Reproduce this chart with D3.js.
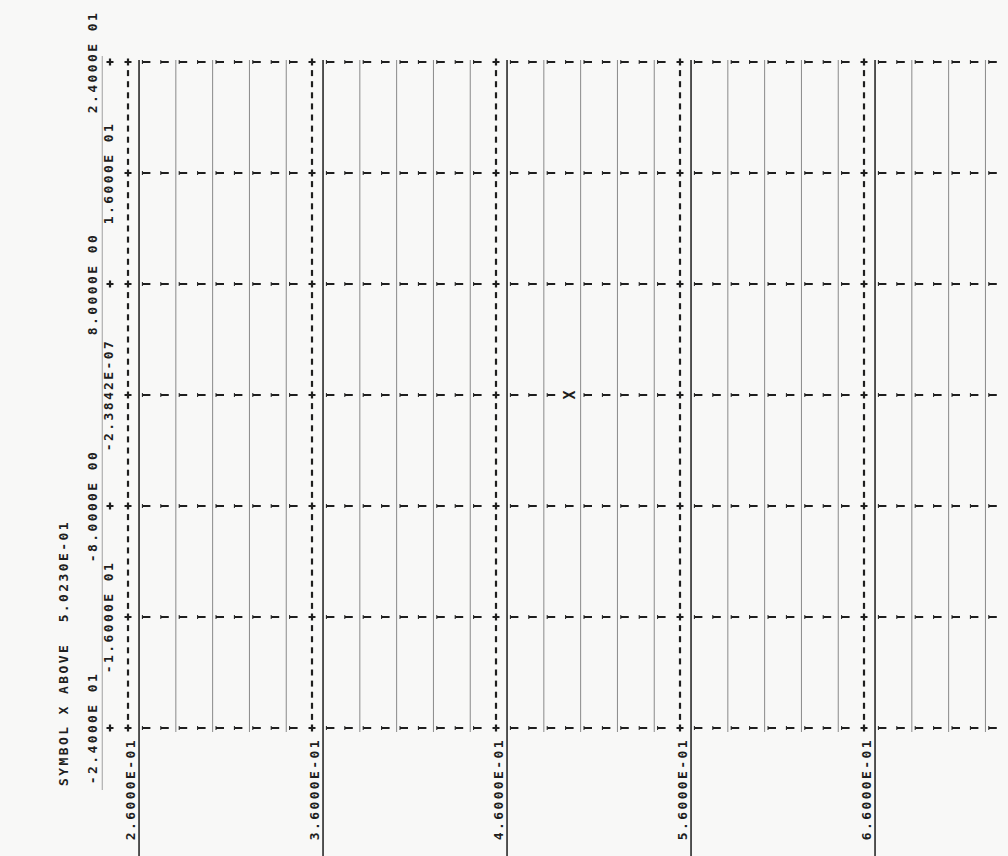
<!DOCTYPE html>
<html>
<head>
<meta charset="utf-8">
<script src="https://cdn.jsdelivr.net/npm/d3@7"></script>
<style>
  html, body { margin: 0; padding: 0; background: #f8f8f7; }
  svg { display: block; }
  text {
    font-family: "DejaVu Sans Mono", "Liberation Mono", monospace;
    font-size: 13px;
    font-weight: bold;
    fill: #1e1e1e;
    white-space: pre;
    letter-spacing: 2.4px;
  }
</style>
</head>
<body>
<svg id="chart" width="1008" height="856"></svg>
<script>
// ---- plot content ----
const headerText = "SYMBOL X ABOVE  5.0230E-01";

const yTickValues = [-24, -16, -8, -2.3842e-7, 8, 16, 24];
const yTickLabels = ["-2.4000E 01", "-1.6000E 01", "-8.0000E 00", "-2.3842E-07",
                     "8.0000E 00", "1.6000E 01", "2.4000E 01"];

const xTickValues = [0.26, 0.36, 0.46, 0.56, 0.66];
const xTickLabels = ["2.6000E-01", "3.6000E-01", "4.6000E-01", "5.6000E-01", "6.6000E-01"];

const pointX = [0.50];
const pointY = [0];
const pointSymbol = ["X"];

// printer resolution in data units
const lineStep = 0.01;   // one printed line along x
const colStep = 0.8;     // one print column along y
const ruleStart = 0.246; // ruled guide lines of the form paper
const ruleStep = 0.02;

// ---- layout ----
const W = 1008, H = 856;
const svg = d3.select("#chart");
svg.append("rect").attr("width", W).attr("height", H).attr("fill", "#f8f8f7");

const x = d3.scaleLinear().domain([0.26, 0.66]).range([128, 864]);
const y = d3.scaleLinear().domain([-24, 24]).range([728, 62]);
const xEnd = x.invert(W);
const ink = "#1e1e1e";

// ruled guide lines (the first one runs through the label margin)
const rules = d3.range(0, Math.floor((xEnd - ruleStart) / ruleStep) + 1)
  .map(i => ({ v: ruleStart + i * ruleStep, major: i % 5 === 1, margin: i === 0 }));
svg.append("g").selectAll("line").data(rules).join("line")
  .attr("x1", d => x(d.v)).attr("x2", d => x(d.v))
  .attr("y1", d => d.margin ? y(24) - 6 : y(24) - 2)
  .attr("y2", d => d.margin ? 790 : d.major ? H : y(-24) + 4)
  .attr("stroke", d => d.major ? "#2a2a2a" : d.margin ? "#a0a0a0" : "#8a8a8a")
  .attr("stroke-width", d => d.major ? 1.6 : 1);

// plus mark helper
function plus(g, cx, cy) {
  g.append("path")
    .attr("d", `M${cx - 3.5},${cy}H${cx + 3.5}M${cx},${cy - 3.5}V${cy + 3.5}`)
    .attr("stroke", ink).attr("stroke-width", 2.2).attr("fill", "none");
}

const yMajor = d3.range(-24, 24.001, 8);

// dashed axis lines at each major x value
const dotG = svg.append("g");
xTickValues.forEach(xv => {
  const cols = d3.range(0, Math.round(48 / colStep) + 1).map(i => -24 + i * colStep);
  cols.forEach(yv => {
    const cx = x(xv), cy = y(yv);
    if (Math.abs(yv / 8 - Math.round(yv / 8)) < 1e-6) {
      plus(dotG, cx, cy);
    } else {
      dotG.append("path")
        .attr("d", `M${cx},${cy - 3}V${cy + 3}`)
        .attr("stroke", ink).attr("stroke-width", 2.2);
    }
  });
});

// grid rows of printed bars at each major y value
const rowG = svg.append("g");
const printLines = d3.range(1, Math.floor((xEnd - 0.26) / lineStep) + 1)
  .map(i => 0.26 + i * lineStep);
yMajor.forEach(yv => {
  printLines.forEach(xv => {
    const isMajor = xTickValues.some(t => Math.abs(t - xv) < 1e-6);
    const isPoint = pointX.some((p, i) => Math.abs(p - xv) < 1e-6 && Math.abs(pointY[i] - yv) < 1e-6);
    if (isMajor || isPoint) return;
    const cx = x(xv), cy = y(yv);
    rowG.append("path")
      .attr("d", `M${cx - 4},${cy}H${cx + 4}`)
      .attr("stroke", ink).attr("stroke-width", 2);
    rowG.append("path")
      .attr("d", `M${cx - 4},${cy - 2}V${cy + 2}`)
      .attr("stroke", ink).attr("stroke-width", 1);
  });
});

// plotted symbols
svg.append("g").selectAll("text").data(pointX).join("text")
  .attr("transform", (d, i) => `translate(${x(d)},${y(pointY[i])}) rotate(-90)`)
  .attr("text-anchor", "middle").attr("dominant-baseline", "central")
  .style("letter-spacing", "0px").style("font-size", "15px")
  .text((d, i) => pointSymbol[i]);

// value labels along y, printed in two staggered lines
const axisX = x(0.26);
const yAxis = d3.axisLeft(y).tickValues(yTickValues)
  .tickFormat((d, i) => yTickLabels[i]).tickSize(0);
const yAxisG = svg.append("g").call(yAxis);
yAxisG.select(".domain").remove();
yAxisG.attr("font-family", null).attr("font-size", null);
yAxisG.selectAll(".tick").attr("transform", null);
yAxisG.selectAll(".tick text")
  .attr("x", null).attr("dy", null)
  .attr("text-anchor", "middle").attr("dominant-baseline", "central")
  .attr("fill", ink)
  .attr("transform", (d, i) => `translate(${axisX - (i % 2 === 0 ? 36 : 20)},${y(d)}) rotate(-90)`);

// tick marks under the first label line
const tickG = svg.append("g");
yTickValues.forEach((d, i) => { if (i % 2 === 0) plus(tickG, axisX - 18, y(d)); });

// value labels along x
const xAxis = d3.axisBottom(x).tickValues(xTickValues)
  .tickFormat((d, i) => xTickLabels[i]).tickSize(0);
const xAxisG = svg.append("g").call(xAxis);
xAxisG.select(".domain").remove();
xAxisG.attr("font-family", null).attr("font-size", null);
xAxisG.selectAll(".tick").attr("transform", null);
xAxisG.selectAll(".tick text")
  .attr("y", null).attr("dy", null)
  .attr("text-anchor", "end").attr("dominant-baseline", "central")
  .attr("fill", ink)
  .attr("transform", d => `translate(${x(d) + 2},${y(-24) + 10}) rotate(-90)`);

// header line
svg.append("text")
  .attr("transform", `translate(${axisX - 65},786) rotate(-90)`)
  .attr("text-anchor", "start").attr("dominant-baseline", "central")
  .text(headerText);
</script>
</body>
</html>
